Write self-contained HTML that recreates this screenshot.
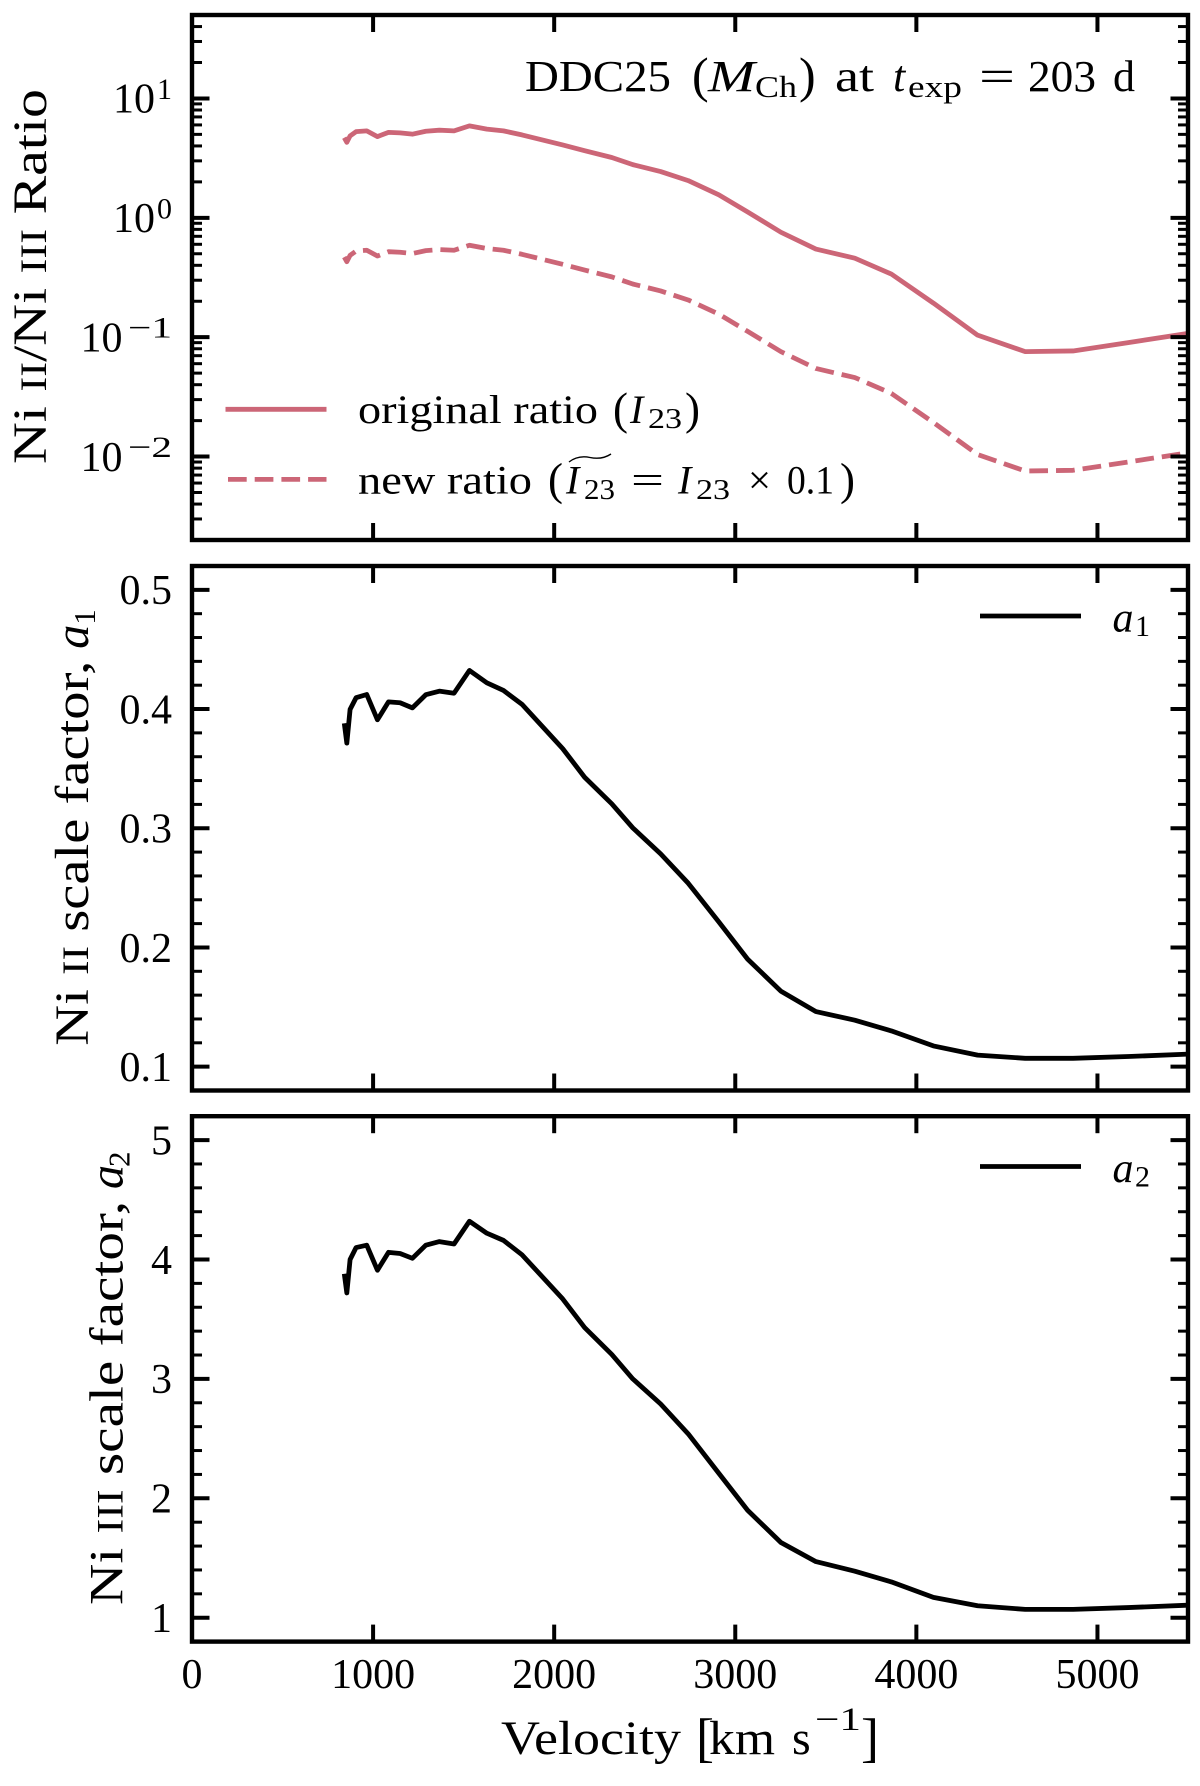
<!DOCTYPE html>
<html lang="en">
<head>
<meta charset="utf-8">
<title>Ni ratio and scale factors</title>
<style>
html,body{margin:0;padding:0;background:#fff;}
svg{display:block;}
text{font-family:"Liberation Serif",serif;fill:#000;}
.i{font-style:italic;}
</style>
</head>
<body>
<svg id="figure" xmlns="http://www.w3.org/2000/svg" width="1200" height="1786" viewBox="0 0 1200 1786">
<rect x="0" y="0" width="1200" height="1786" fill="#fff"/>
<defs>
<clipPath id="clip-ratio"><rect x="192" y="15" width="996" height="525"/></clipPath>
<clipPath id="clip-a1"><rect x="192" y="566" width="996" height="524.5"/></clipPath>
<clipPath id="clip-a2"><rect x="192" y="1116.2" width="996" height="525.4"/></clipPath>
</defs>
<g id="marks"></g>

<g>
<text x="525" y="91" font-size="44" textLength="146" lengthAdjust="spacingAndGlyphs">DDC25</text>
<text x="692" y="92" font-size="50">(</text>
<text class="i" x="708" y="91" font-size="44" textLength="47" lengthAdjust="spacingAndGlyphs">M</text>
<text x="755" y="97" font-size="31" textLength="42" lengthAdjust="spacingAndGlyphs">Ch</text>
<text x="799" y="92" font-size="50">)</text>
<text x="835" y="91" font-size="44" textLength="39" lengthAdjust="spacingAndGlyphs">at</text>
<text class="i" x="893" y="91" font-size="44">t</text>
<text x="908" y="97" font-size="31" textLength="54" lengthAdjust="spacingAndGlyphs">exp</text>
<text x="979" y="91" font-size="44" textLength="36" lengthAdjust="spacingAndGlyphs">=</text>
<text x="1028" y="91" font-size="44" textLength="68" lengthAdjust="spacingAndGlyphs">203</text>
<text x="1113" y="91" font-size="44">d</text>
</g>

<g>
<text x="358" y="423" font-size="40" textLength="240" lengthAdjust="spacingAndGlyphs">original ratio</text>
<text x="613" y="424" font-size="45">(</text>
<text class="i" x="630" y="423" font-size="40">I</text>
<text x="648" y="428" font-size="29" textLength="34" lengthAdjust="spacingAndGlyphs">23</text>
<text x="685" y="424" font-size="45">)</text>
<text x="358" y="493.5" font-size="40" textLength="174" lengthAdjust="spacingAndGlyphs">new ratio</text>
<text x="548" y="494.5" font-size="45">(</text>
<text class="i" x="566" y="493.5" font-size="40">I</text>
<text x="584" y="499" font-size="29" textLength="31" lengthAdjust="spacingAndGlyphs">23</text>
<path d="M569 462 Q578 455 590 457.5 Q602 460 611 454" fill="none" stroke="#000" stroke-width="1.4"/>
<text x="631" y="493.5" font-size="40" textLength="33" lengthAdjust="spacingAndGlyphs">=</text>
<text class="i" x="678" y="493.5" font-size="40">I</text>
<text x="696" y="499" font-size="29" textLength="34" lengthAdjust="spacingAndGlyphs">23</text>
<text x="748" y="493.5" font-size="40" textLength="23" lengthAdjust="spacingAndGlyphs">×</text>
<text x="787" y="493.5" font-size="40" textLength="47" lengthAdjust="spacingAndGlyphs">0.1</text>
<text x="840" y="494.5" font-size="45">)</text>
</g>

<g>
<text class="i" x="1112.5" y="631.4" font-size="42" textLength="21" lengthAdjust="spacingAndGlyphs">a</text>
<text x="1135" y="636" font-size="30">1</text>
</g>
<g>
<text class="i" x="1112.5" y="1182" font-size="42" textLength="21" lengthAdjust="spacingAndGlyphs">a</text>
<text x="1135" y="1186.6" font-size="30">2</text>
</g>

<g transform="translate(46,464) rotate(-90)">
<text x="0" y="0" font-size="48" textLength="375" lengthAdjust="spacingAndGlyphs">Ni <tspan font-size="37">II</tspan>/Ni <tspan font-size="37">III</tspan> Ratio</text>
</g>
<g transform="translate(88,1045.7) rotate(-90)">
<text x="0" y="0" font-size="48" textLength="385" lengthAdjust="spacingAndGlyphs">Ni <tspan font-size="37">II</tspan> scale factor,</text>
<text class="i" x="397" y="0" font-size="48" textLength="24" lengthAdjust="spacingAndGlyphs">a</text>
<text x="421" y="7" font-size="31">1</text>
</g>
<g transform="translate(122.5,1605) rotate(-90)">
<text x="0" y="0" font-size="48" textLength="404" lengthAdjust="spacingAndGlyphs">Ni <tspan font-size="37">III</tspan> scale factor,</text>
<text class="i" x="416" y="0" font-size="48" textLength="24" lengthAdjust="spacingAndGlyphs">a</text>
<text x="438" y="7" font-size="31">2</text>
</g>

<g>
<text x="501" y="1754" font-size="48" textLength="180" lengthAdjust="spacingAndGlyphs">Velocity</text>
<text x="696" y="1756" font-size="54">[</text>
<text x="709" y="1754" font-size="48" textLength="66" lengthAdjust="spacingAndGlyphs">km</text>
<text x="792" y="1754" font-size="48">s</text>
<text x="815" y="1730" font-size="33" textLength="46" lengthAdjust="spacingAndGlyphs">−1</text>
<text x="861" y="1756" font-size="54">]</text>
</g>
</svg>

<script>
// Shared velocity grid (km/s)
const velocity = [841,855,873,906,965,1024,1085,1149,1217,1291,1366,1447,1532,1628,1720,1822,2047,2168,2318,2434,2588,2740,2909,3068,3252,3445,3660,3862,4094,4338,4601,4865,5170,5500];
// Series
const originalRatio = [4.69,4.29,4.85,5.27,5.35,4.79,5.2,5.15,5.02,5.31,5.42,5.35,5.89,5.53,5.35,4.95,4.08,3.65,3.2,2.79,2.44,2.05,1.56,1.12,0.757,0.547,0.459,0.338,0.193,0.104,0.0757,0.0767,0.09,0.1076];
const newRatio = [0.469,0.429,0.485,0.527,0.535,0.479,0.52,0.515,0.502,0.531,0.542,0.535,0.589,0.553,0.535,0.495,0.408,0.365,0.32,0.279,0.244,0.205,0.156,0.112,0.0757,0.0547,0.0459,0.0338,0.0193,0.0104,0.00757,0.00767,0.009,0.01076];
const a1Values = [0.388,0.3714,0.3997,0.4095,0.4122,0.391,0.406,0.4053,0.401,0.412,0.415,0.4133,0.4324,0.422,0.4156,0.404,0.3668,0.3428,0.3205,0.3003,0.2785,0.2539,0.2215,0.1902,0.1633,0.1462,0.139,0.13,0.1174,0.1097,0.107,0.107,0.1085,0.1105];
const a2Values = [3.88,3.72,4.0,4.1,4.12,3.91,4.06,4.05,4.01,4.12,4.15,4.13,4.32,4.22,4.16,4.04,3.67,3.43,3.205,3.0,2.79,2.54,2.21,1.9,1.63,1.47,1.39,1.3,1.17,1.1,1.07,1.07,1.085,1.105];
// Ticks
const xTickValues = [0,1000,2000,3000,4000,5000];
const xTickLabels = ['0','1000','2000','3000','4000','5000'];
const ratioDecades = [-2,-1,0,1];
const ratioExponentLabels = ['−2','−1','0','1'];
const ratioMinorDecades = [-3,-2,-1,0,1];
const ratioMinorMultiples = [2,3,4,5,6,7,8,9];
const a1TickValues = [0.1,0.2,0.3,0.4,0.5];
const a1TickLabels = ['0.1','0.2','0.3','0.4','0.5'];
const a1MinorValues = [0.12,0.14,0.16,0.18,0.22,0.24,0.26,0.28,0.32,0.34,0.36,0.38,0.42,0.44,0.46,0.48];
const a2TickValues = [1,2,3,4,5];
const a2TickLabels = ['1','2','3','4','5'];
const a2MinorValues = [1.2,1.4,1.6,1.8,2.2,2.4,2.6,2.8,3.2,3.4,3.6,3.8,4.2,4.4,4.6,4.8];

const SVG_NS = 'http://www.w3.org/2000/svg';
const marks = document.getElementById('marks');
const LEFT = 192, RIGHT = 1188;
const X_MAX = 5500;
const ROSE = '#cc6677';

function xScale(v) { return LEFT + (v / X_MAX) * (RIGHT - LEFT); }
function linearScale(min, max, top, bottom) {
  return function (v) { return bottom - ((v - min) / (max - min)) * (bottom - top); };
}
function logScale(min, max, top, bottom) {
  return function (v) {
    return bottom - ((Math.log10(v) - Math.log10(min)) / (Math.log10(max) - Math.log10(min))) * (bottom - top);
  };
}

function addLine(parent, name, x1, y1, x2, y2, width, color) {
  const el = document.createElementNS(SVG_NS, 'line');
  
  
  el.setAttribute('x1', x1);
  el.setAttribute('y1', y1);
  el.setAttribute('x2', x2);
  el.setAttribute('y2', y2);
  el.setAttribute('stroke', color);
  el.setAttribute('stroke-width', width);
  parent.appendChild(el);
  return el;
}

function addText(parent, name, x, y, size, anchor, content) {
  const el = document.createElementNS(SVG_NS, 'text');
  
  
  el.setAttribute('x', x);
  el.setAttribute('y', y);
  el.setAttribute('font-size', size);
  el.setAttribute('text-anchor', anchor);
  el.textContent = content;
  parent.appendChild(el);
  return el;
}

function addSeries(parent, name, xs, ys, yScale, color, dash, clipId) {
  const el = document.createElementNS(SVG_NS, 'polyline');
  
  
  const pts = xs.map(function (x, i) {
    return xScale(x).toFixed(2) + ',' + yScale(ys[i]).toFixed(2);
  }).join(' ');
  el.setAttribute('points', pts);
  el.setAttribute('fill', 'none');
  el.setAttribute('stroke', color);
  el.setAttribute('stroke-width', '4.8');
  el.setAttribute('stroke-linejoin', 'round');
  if (dash) {
    el.setAttribute('stroke-dasharray', dash);
  }
  el.setAttribute('clip-path', 'url(#' + clipId + ')');
  parent.appendChild(el);
  return el;
}

function addFrame(parent, name, top, bottom) {
  const el = document.createElementNS(SVG_NS, 'rect');
  
  
  el.setAttribute('x', LEFT);
  el.setAttribute('y', top);
  el.setAttribute('width', RIGHT - LEFT);
  el.setAttribute('height', bottom - top);
  el.setAttribute('fill', 'none');
  el.setAttribute('stroke', '#000');
  el.setAttribute('stroke-width', '4.4');
  parent.appendChild(el);
}

function addXTicks(parent, top, bottom) {
  xTickValues.forEach(function (v) {
    const x = xScale(v);
    if (v === 0) { return; }
    addLine(parent, 'x-tick-top', x, top, x, top + 17, 4, '#000');
    addLine(parent, 'x-tick-bottom', x, bottom, x, bottom - 17, 4, '#000');
  });
}

function addYTick(parent, y, len, width, name) {
  addLine(parent, name + '-left', LEFT, y, LEFT + len, y, width, '#000');
  addLine(parent, name + '-right', RIGHT, y, RIGHT - len, y, width, '#000');
}

// Panel 1: ratio
const ratioG = document.createElementNS(SVG_NS, 'g');


marks.appendChild(ratioG);
const ratioY = logScale(0.002, 50, 15, 540);
addSeries(ratioG, 'original-ratio-line', velocity, originalRatio, ratioY, ROSE, null, 'clip-ratio');
addSeries(ratioG, 'new-ratio-line', velocity, newRatio, ratioY, ROSE, '18.7 8', 'clip-ratio');
addXTicks(ratioG, 15, 540);
ratioDecades.forEach(function (d, i) {
  const y = ratioY(Math.pow(10, d));
  addYTick(ratioG, y, 17.5, 4, 'ratio-major-tick');
  const exp = ratioExponentLabels[i];
  const supW = exp.length > 1 ? 44 : 15;
  const baseEnd = exp.length > 1 ? 122.5 : 155;
  addText(ratioG, 'ratio-tick-base', baseEnd, y + 14.3, 42, 'end', '10');
  const sup = addText(ratioG, 'ratio-tick-exponent', 172, y + 0.5, 30, 'end', exp);
  sup.setAttribute('textLength', supW);
  sup.setAttribute('lengthAdjust', 'spacingAndGlyphs');
});
ratioMinorDecades.forEach(function (d) {
  ratioMinorMultiples.forEach(function (m) {
    const v = m * Math.pow(10, d);
    if (v < 0.002 || v > 50) { return; }
    addYTick(ratioG, ratioY(v), 10, 3, 'ratio-minor-tick');
  });
});
addFrame(ratioG, 'ratio-frame', 15, 540);
addLine(ratioG, 'legend-original-line', 225.5, 409.3, 326.5, 409.3, 4.8, ROSE);
const newKey = addLine(ratioG, 'legend-new-line', 228, 479.4, 326.5, 479.4, 4.8, ROSE);
newKey.setAttribute('stroke-dasharray', '18.7 8');

// Panel 2: a1
const a1G = document.createElementNS(SVG_NS, 'g');


marks.appendChild(a1G);
const a1Y = linearScale(0.08, 0.52, 566, 1090.5);
addSeries(a1G, 'a1-line', velocity, a1Values, a1Y, '#000', null, 'clip-a1');
addXTicks(a1G, 566, 1090.5);
a1TickValues.forEach(function (v, i) {
  const y = a1Y(v);
  addYTick(a1G, y, 17.5, 4, 'a1-major-tick');
  addText(a1G, 'a1-tick-label', 172, y + 14.3, 42, 'end', a1TickLabels[i]);
});
a1MinorValues.forEach(function (v) {
  addYTick(a1G, a1Y(v), 10, 3, 'a1-minor-tick');
});
addFrame(a1G, 'a1-frame', 566, 1090.5);
addLine(a1G, 'legend-a1-line', 980, 616, 1081, 616, 4.8, '#000');

// Panel 3: a2
const a2G = document.createElementNS(SVG_NS, 'g');


marks.appendChild(a2G);
const a2Y = linearScale(0.8, 5.2, 1116.2, 1641.6);
addSeries(a2G, 'a2-line', velocity, a2Values, a2Y, '#000', null, 'clip-a2');
addXTicks(a2G, 1116.2, 1641.6);
a2TickValues.forEach(function (v, i) {
  const y = a2Y(v);
  addYTick(a2G, y, 17.5, 4, 'a2-major-tick');
  addText(a2G, 'a2-tick-label', 172, y + 14.3, 42, 'end', a2TickLabels[i]);
});
a2MinorValues.forEach(function (v) {
  addYTick(a2G, a2Y(v), 10, 3, 'a2-minor-tick');
});
addFrame(a2G, 'a2-frame', 1116.2, 1641.6);
addLine(a2G, 'legend-a2-line', 980, 1166.5, 1081, 1166.5, 4.8, '#000');
xTickValues.forEach(function (v, i) {
  addText(a2G, 'x-tick-label', xScale(v), 1688, 42, 'middle', xTickLabels[i]);
});
</script>
</body>
</html>
